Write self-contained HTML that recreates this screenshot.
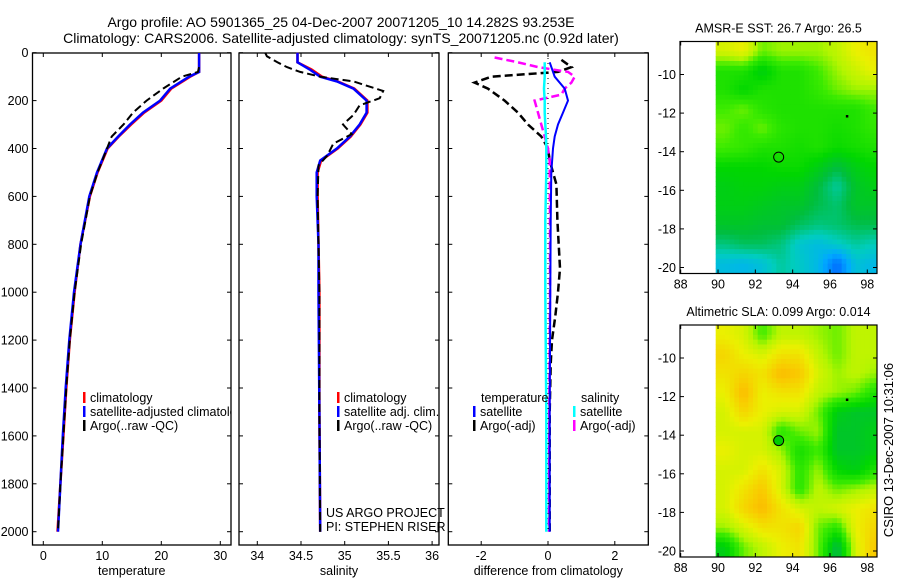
<!DOCTYPE html>
<html><head><meta charset="utf-8">
<style>
html,body{margin:0;padding:0;background:#fff;}
svg{display:block;font-family:"Liberation Sans",sans-serif;}
text{fill:#000;}
</style></head>
<body>
<svg id="fig" width="900" height="580" viewBox="0 0 900 580">
<text x="341" y="27" font-size="14" text-anchor="middle">Argo profile: AO 5901365_25 04-Dec-2007 20071205_10 14.282S 93.253E</text>
<text x="341" y="43" font-size="14" text-anchor="middle">Climatology: CARS2006. Satellite-adjusted climatology: synTS_20071205.nc (0.92d later)</text>
<g id="p1"></g>
<g id="p2"></g>
<g id="p3"></g>
<g id="m1"></g>
<g id="m2"></g>
<text transform="translate(893,450) rotate(-90)" font-size="13" text-anchor="middle">CSIRO 13-Dec-2007 10:31:06</text>
</svg>
<script>
// ---- data ----
const depthTicks = [0,200,400,600,800,1000,1200,1400,1600,1800,2000];
const tempTicks = [0,10,20,30];
const salTicks = [34,34.5,35,35.5,36];
const diffTicks = [-2,0,2];
const tDepth = [0,80,100,150,200,250,300,350,400,500,600,800,1000,1200,1400,1600,1800,2000];
const tClim  = [26.4,26.4,24.9,21.7,20.0,17.1,14.9,12.8,10.9,9.2,7.9,6.3,5.3,4.5,3.9,3.4,2.9,2.4];
const tSat   = [26.4,26.4,24.7,21.5,19.8,16.9,14.7,12.7,10.8,9.1,7.8,6.3,5.2,4.4,3.8,3.3,2.9,2.5];
const tArgoDepth = [60,80,100,150,200,250,300,350,400,500,600,800,1000,1200,1400,1600,1800,2000];
const tArgo = [26.4,26.2,23.5,20.3,17.5,15.2,13.6,11.6,10.8,9.2,7.9,6.4,5.3,4.5,3.9,3.4,2.9,2.5];
const sDepth = [0,40,70,100,120,150,200,250,300,350,400,450,500,600,800,1000,1500,2000];
const sClim = [34.46,34.46,34.62,34.74,34.92,35.11,35.26,35.26,35.18,35.07,34.92,34.73,34.69,34.69,34.7,34.71,34.71,34.72];
const sSat  = [34.46,34.46,34.6,34.72,34.91,35.1,35.25,35.25,35.17,35.06,34.91,34.72,34.68,34.68,34.7,34.7,34.71,34.72];
const sArgoDepth = [0,15,40,60,80,100,120,160,190,220,260,300,340,380,430,470,600,800,1000,1500,2000];
const sArgo = [34.09,34.11,34.23,34.34,34.49,34.72,35.1,35.44,35.4,35.17,35.1,34.98,35.08,34.87,34.8,34.7,34.69,34.7,34.71,34.71,34.72];
const dDepth = [40,100,150,200,250,300,350,400,500,700,1000,1500,2000];
const dTempSat = [0.05,0.2,0.5,0.6,0.45,0.3,0.2,0.15,0.1,0.08,0.07,0.05,0.05];
const dSalSat = [-0.1,-0.1,-0.12,-0.1,-0.1,-0.08,-0.06,-0.05,-0.05,-0.08,-0.08,-0.05,-0.05];
const dArgoDepth = [30,60,80,100,125,150,200,250,300,350,400,450,500,550,700,900,1000,1100,1200,1300,1500,1800,2000];
const dTempArgo = [0.4,0.7,0.3,-1.7,-2.2,-1.8,-1.3,-0.9,-0.6,-0.2,0,0.05,0.15,0.25,0.28,0.36,0.3,0.22,0.12,0.08,0.05,0.05,0.05];
const dSalArgoDepth = [20,40,60,80,100,125,150,175,200,250,300,350,400,450,500,700,1000,1500,2000];
const dSalArgo = [-1.6,-0.9,-0.3,0.6,0.8,0.7,0.5,0.4,-0.4,-0.3,-0.2,-0.1,0,0.05,0.05,0.06,0.06,0.04,0.03];
// map grids (rows lat -8.3 .. -20.3, cols lon 89.875 .. 98.875), colour index 0..1
const sstGrid = [
[0.66,0.68,0.6,0.62,0.62,0.62,0.64,0.68,0.7],
[0.55,0.55,0.5,0.55,0.55,0.58,0.62,0.65,0.68],
[0.55,0.52,0.55,0.55,0.55,0.57,0.6,0.62,0.62],
[0.58,0.6,0.56,0.55,0.55,0.55,0.55,0.55,0.58],
[0.6,0.57,0.6,0.56,0.55,0.55,0.54,0.55,0.57],
[0.58,0.57,0.55,0.55,0.54,0.55,0.53,0.54,0.55],
[0.52,0.52,0.52,0.53,0.53,0.5,0.46,0.5,0.52],
[0.5,0.51,0.51,0.5,0.5,0.46,0.4,0.48,0.5],
[0.5,0.5,0.49,0.48,0.48,0.45,0.43,0.48,0.48],
[0.48,0.48,0.47,0.47,0.44,0.42,0.43,0.45,0.45],
[0.42,0.44,0.44,0.42,0.36,0.34,0.37,0.4,0.38],
[0.34,0.33,0.35,0.4,0.37,0.33,0.22,0.35,0.33]];
const slaGrid = [
[0.68,0.66,0.58,0.64,0.64,0.62,0.6,0.64,0.64],
[0.72,0.68,0.66,0.7,0.7,0.64,0.6,0.64,0.64],
[0.7,0.72,0.7,0.76,0.74,0.66,0.62,0.64,0.62],
[0.68,0.76,0.68,0.7,0.7,0.64,0.62,0.6,0.55],
[0.66,0.72,0.68,0.66,0.66,0.6,0.5,0.48,0.48],
[0.66,0.66,0.66,0.56,0.6,0.62,0.48,0.48,0.5],
[0.68,0.66,0.66,0.62,0.54,0.58,0.48,0.48,0.5],
[0.66,0.66,0.7,0.66,0.56,0.62,0.52,0.5,0.55],
[0.66,0.7,0.74,0.66,0.56,0.64,0.6,0.62,0.64],
[0.66,0.72,0.76,0.7,0.66,0.64,0.66,0.68,0.7],
[0.62,0.66,0.7,0.7,0.72,0.6,0.56,0.68,0.72],
[0.5,0.6,0.64,0.68,0.7,0.6,0.45,0.66,0.74]];
const lonTicks = [88,90,92,94,96,98];
const latTicks = [-10,-12,-14,-16,-18,-20];
const floatLon = [93.25];
const floatLat = [-14.28];

// ---- helpers ----
const NS='http://www.w3.org/2000/svg';
function mk(parent,tag,attrs,txt){const e=document.createElementNS(NS,tag);for(const k in attrs)e.setAttribute(k,attrs[k]);if(txt!==undefined)e.textContent=txt;parent.appendChild(e);return e;}
const yD = d => 52.7 + d*0.2395;
const PT=53, PB=545;
function panel(g,x0,x1,xf,ticks,label,depthLabels){
  const fr=mk(g,'rect',{x:x0,y:PT,width:x1-x0,height:PB-PT,fill:'none',stroke:'#000','stroke-width':1.3});
  
  
  depthTicks.forEach(d=>{
    mk(g,'line',{x1:x0,x2:x0+4,y1:yD(d),y2:yD(d),stroke:'#000'});
    mk(g,'line',{x1:x1,x2:x1-4,y1:yD(d),y2:yD(d),stroke:'#000'});
    if(depthLabels){const t=mk(g,'text',{x:x0-4,y:yD(d)+4.5,'font-size':12.5,'text-anchor':'end'},String(d));
      
      }
  });
  ticks.forEach(v=>{
    mk(g,'line',{x1:xf(v),x2:xf(v),y1:PB,y2:PB-4,stroke:'#000'});
    mk(g,'line',{x1:xf(v),x2:xf(v),y1:PT,y2:PT+4,stroke:'#000'});
    const t=mk(g,'text',{x:xf(v),y:PB+15,'font-size':12.5,'text-anchor':'middle'},String(v));
    
    
  });
  const xl=mk(g,'text',{x:(x0+x1)/2,y:PB+30,'font-size':12.5,'text-anchor':'middle'},label);
  
  
}
function line(g,depths,vals,xf,color,w,dash,name){
  const pts=depths.map((d,i)=>xf(vals[i]).toFixed(1)+','+yD(d).toFixed(1)).join(' ');
  const p=mk(g,'polyline',{points:pts,fill:'none',stroke:color,'stroke-width':w});
  if(dash)p.setAttribute('stroke-dasharray',dash);
  
  
}
function legend(g,x,y,color,label,name){
  mk(g,'rect',{x:x,y:y-10,width:2.5,height:11,fill:color});
  const t=mk(g,'text',{x:x+7,y:y,'font-size':12.5},label);
  
  
}
// ---- panel 1 ----
const p1=document.getElementById('p1');
const xT=v=>43.3+5.9*v;
panel(p1,32.5,231,xT,tempTicks,'temperature',true);
const cp1=mk(p1,'clipPath',{id:'c1'});mk(cp1,'rect',{x:32.5,y:PT,width:198.5,height:PB-PT});
const g1=mk(p1,'g',{'clip-path':'url(#c1)'});
line(g1,tDepth,tClim,xT,'#f00',2.5,null,'temperature-climatology-line');
line(g1,tDepth,tSat,xT,'#00f',2.5,null,'temperature-satellite-line');
line(g1,tArgoDepth,tArgo,xT,'#000',2,'8 4','temperature-argo-line');
legend(g1,83,402,'#f00','climatology','legend-climatology');
legend(g1,83,416,'#00f','satellite-adjusted climatology','legend-satellite');
legend(g1,83,430,'#000','Argo(..raw -QC)','legend-argo');
// ---- panel 2 ----
const p2=document.getElementById('p2');
const xS=v=>257.3+87.4*(v-34);
panel(p2,239,439,xS,salTicks,'salinity',false);
line(p2,sDepth,sClim,xS,'#f00',2.5,null,'salinity-climatology-line');
line(p2,sDepth,sSat,xS,'#00f',2.5,null,'salinity-satellite-line');
line(p2,sArgoDepth,sArgo,xS,'#000',2,'8 4','salinity-argo-line');
legend(p2,337,402,'#f00','climatology','legend-climatology');
legend(p2,337,416,'#00f','satellite adj. clim.','legend-satellite');
legend(p2,337,430,'#000','Argo(..raw -QC)','legend-argo');
const us=mk(p2,'text',{x:326,y:517,'font-size':12.5},'US ARGO PROJECT');


const pi=mk(p2,'text',{x:326,y:531,'font-size':12.5},'PI: STEPHEN RISER');


// ---- panel 3 ----
const p3=document.getElementById('p3');
const xDf=v=>548+33.4*v;
panel(p3,448.3,648.3,xDf,diffTicks,'difference from climatology',false);
mk(p3,'line',{x1:xDf(0),x2:xDf(0),y1:PT,y2:yD(2000),stroke:'#000','stroke-dasharray':'1 4'});
line(p3,dArgoDepth,dTempArgo,xDf,'#000',2.5,'8 4','temperature-argo-diff-line');
line(p3,dSalArgoDepth,dSalArgo,xDf,'#f0f',2.5,'8 4','salinity-argo-diff-line');
line(p3,dDepth,dTempSat,xDf,'#00f',2,null,'temperature-satellite-diff-line');
line(p3,dDepth,dSalSat,xDf,'#0ff',2.5,null,'salinity-satellite-diff-line');
const lt=mk(p3,'text',{x:481,y:402,'font-size':12.5},'temperature');


const ls=mk(p3,'text',{x:581,y:402,'font-size':12.5},'salinity');


legend(p3,473,416,'#00f','satellite','legend-temp-satellite');
legend(p3,473,430,'#000','Argo(-adj)','legend-temp-argo');
legend(p3,573,416,'#0ff','satellite','legend-sal-satellite');
legend(p3,573,430,'#f0f','Argo(-adj)','legend-sal-argo');
// ---- maps ----
const stops=[[0,[0,40,180]],[0.22,[0,110,255]],[0.3,[0,170,255]],[0.38,[0,205,190]],[0.46,[0,190,60]],[0.52,[0,215,0]],[0.58,[60,235,0]],[0.63,[180,245,0]],[0.68,[235,240,0]],[0.74,[250,200,0]],[0.82,[250,150,0]],[1,[200,0,0]]];
function cmap(v){for(let i=1;i<stops.length;i++){if(v<=stops[i][0]){const a=stops[i-1],b=stops[i],t=(v-a[0])/(b[0]-a[0]);return 'rgb('+a[1].map((c,k)=>Math.round(c+(b[1][k]-c)*t)).join(',')+')';}}return 'rgb(200,0,0)';}
function sample(grid,r,c){
  const R=grid.length-1,C=grid[0].length-1;
  r=Math.max(0,Math.min(R,r));c=Math.max(0,Math.min(C,c));
  const r0=Math.min(R-1,Math.floor(r)),c0=Math.min(C-1,Math.floor(c));
  const fr=r-r0,fc=c-c0;
  return grid[r0][c0]*(1-fr)*(1-fc)+grid[r0][c0+1]*(1-fr)*fc+grid[r0+1][c0]*fr*(1-fc)+grid[r0+1][c0+1]*fr*fc;
}
function map(id,top,grid,title,dotFill){
  const g=document.getElementById(id);
  const X=lon=>680.7+18.66*(lon-88), Y=lat=>top+33+19.3*(-10-lat);
  const bot=top+232, L=680, R=877;
  const cp=mk(g,'clipPath',{id:'c'+id});mk(cp,'rect',{x:L,y:top,width:R-L,height:bot-top});
  const gg=mk(g,'g',{'clip-path':'url(#c'+id+')'});
  const S=4, step=1/S;
  for(let r=0;r<grid.length*S;r++){
    for(let c=0;c<grid[0].length*S;c++){
      const gr=(r+0.5)/S-0.5, gc=(c+0.5)/S-0.5;
      const v=sample(grid,gr,gc);
      const lon=89.875+c*step, lat=-8.3-r*step;
      const cell=mk(gg,'rect',{x:X(lon).toFixed(2),y:Y(lat).toFixed(2),width:(18.66*step+0.4).toFixed(2),height:(19.3*step+0.4).toFixed(2),fill:cmap(v)});
      
      
    }
  }
  mk(g,'rect',{x:L,y:top,width:R-L,height:bot-top,fill:'none',stroke:'#000','stroke-width':1.2});
  lonTicks.forEach(l=>{mk(g,'line',{x1:X(l),x2:X(l),y1:bot,y2:bot-4,stroke:'#000'});mk(g,'line',{x1:X(l),x2:X(l),y1:top,y2:top+4,stroke:'#000'});
    const t=mk(g,'text',{x:X(l),y:bot+15,'font-size':12.5,'text-anchor':'middle'},String(l));
    
    });
  latTicks.forEach(l=>{mk(g,'line',{x1:L,x2:L+4,y1:Y(l),y2:Y(l),stroke:'#000'});mk(g,'line',{x1:R,x2:R-4,y1:Y(l),y2:Y(l),stroke:'#000'});
    const t=mk(g,'text',{x:L-4,y:Y(l)+4.5,'font-size':12.5,'text-anchor':'end'},String(l));
    
    });
  const c=mk(g,'circle',{cx:X(floatLon[0]),cy:Y(floatLat[0]),r:5,fill:dotFill,stroke:'#000','stroke-width':1});
  
  
  mk(g,'rect',{x:X(96.85),y:Y(-12.1),width:2.5,height:2.5,fill:'#000'});
  const t=mk(g,'text',{x:(L+R)/2,y:top-9,'font-size':12.5,'text-anchor':'middle'},title);
  
  
}
map('m1',41.5,sstGrid,'AMSR-E SST: 26.7 Argo: 26.5','none');
map('m2',325,slaGrid,'Altimetric SLA: 0.099 Argo: 0.014','#0c0');
</script>
</body></html>
